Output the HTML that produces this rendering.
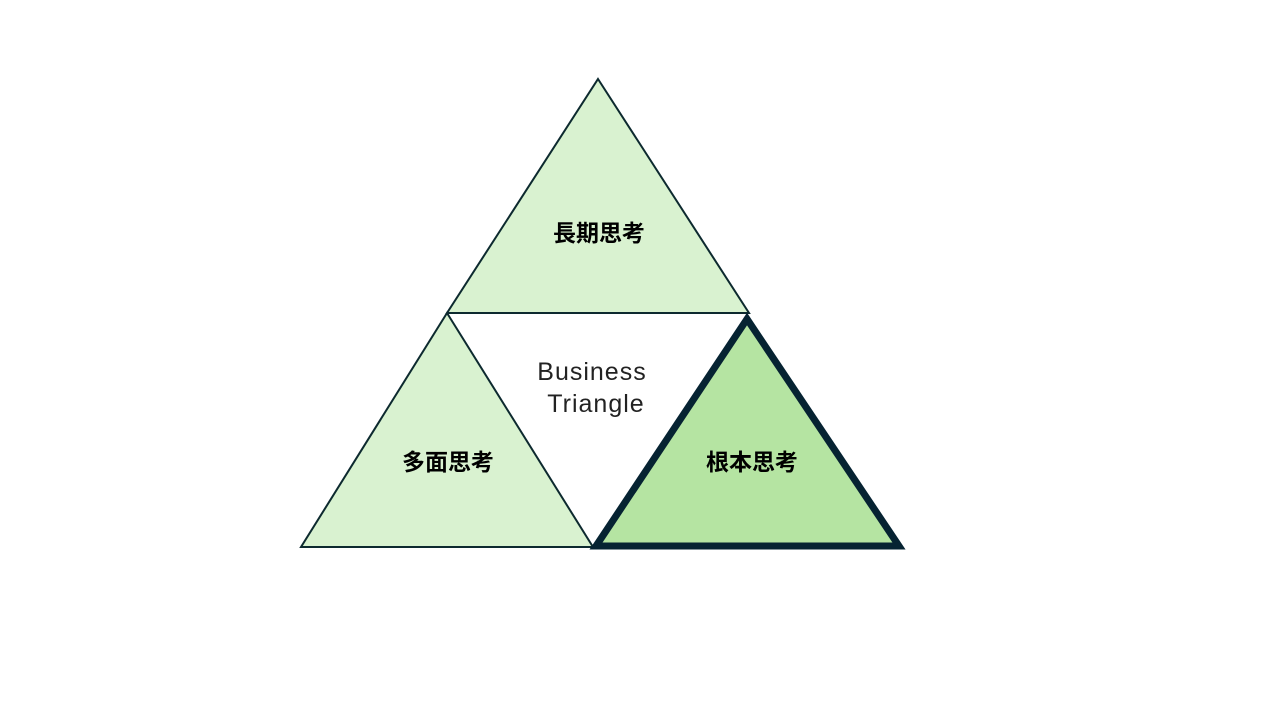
<!DOCTYPE html>
<html><head><meta charset="utf-8"><style>
html,body{margin:0;padding:0;background:#fff;width:1280px;height:720px;overflow:hidden}
svg{display:block}
.j{font-family:"Liberation Sans","Noto Sans CJK JP",sans-serif;font-weight:bold;font-size:23px;fill:#000}
.e{font-family:"Liberation Sans","Noto Sans CJK JP",sans-serif;font-size:25px;fill:#222;letter-spacing:1px}
</style></head><body>
<svg width="1280" height="720" viewBox="0 0 1280 720">
<polygon points="598,79 749,313 447,313" fill="#d9f2d0" stroke="#0d2a2f" stroke-width="2"/>
<polygon points="447,313 593,547 301,547" fill="#d9f2d0" stroke="#0d2a2f" stroke-width="2"/>
<line x1="447" y1="313" x2="749" y2="313" stroke="#0d2a2f" stroke-width="2"/>
<polygon points="747,319 899,546 596,546" fill="#b5e4a2" stroke="#062332" stroke-width="7" stroke-linejoin="miter"/>
<text class="j" x="599" y="241" text-anchor="middle">長期思考</text>
<text class="j" x="448" y="470" text-anchor="middle">多面思考</text>
<text class="j" x="752" y="470" text-anchor="middle">根本思考</text>
<text class="e" x="592" y="380" text-anchor="middle">Business</text>
<text class="e" x="596" y="412" text-anchor="middle">Triangle</text>
</svg>
</body></html>
